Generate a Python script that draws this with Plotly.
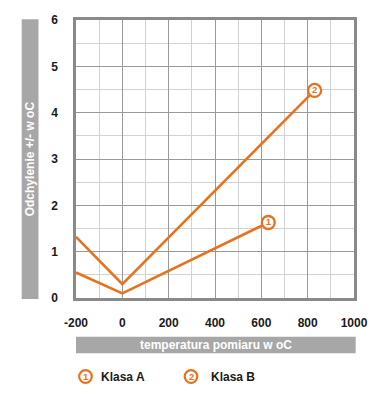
import plotly.graph_objects as go

# Data
temps_a = [-200, 0, 630]
dev_a = [0.55, 0.1, 1.63]
temps_b = [-200, 0, 830]
dev_b = [1.32, 0.3, 4.48]
series_names = ["Klasa A", "Klasa B"]
series_ids = ["1", "2"]
x_ticks = [-200, 0, 200, 400, 600, 800, 1000]
y_ticks = [0, 1, 2, 3, 4, 5, 6]
x_title = "temperatura pomiaru w oC"
y_title = "Odchylenie +/- w oC"

ORANGE = "#E8721C"
GRAY_BAR = "#A7A7A7"
FONT = "Liberation Sans, Arial, sans-serif"

W, H = 379, 393          # window
O = 8                    # default body margin of the page
FW, FH = W - 2 * O, H - 2 * O
# plot area in window pixels
PL, PR, PT, PB = 76, 354, 20, 298
PW = PR - PL
PH = PB - PT
ml, mt = PL - O, PT - O
mr, mb = FW - (PR - O), FH - (PB - O)

def px_x(p):
    return (p - PL) / PW

def px_y(p):
    return (PB - p) / PH

fig = go.Figure()
for xs, ys, nid in [(temps_a, dev_a, series_ids[0]), (temps_b, dev_b, series_ids[1])]:
    fig.add_trace(go.Scatter(x=xs, y=ys, mode="lines",
                             line=dict(color=ORANGE, width=2.6),
                             showlegend=False, hoverinfo="skip", cliponaxis=False))
    fig.add_trace(go.Scatter(x=[xs[-1]], y=[ys[-1]], mode="markers+text",
                             text=[nid], textposition="middle center",
                             textfont=dict(family=FONT, size=9.5, color=ORANGE, weight="bold"),
                             marker=dict(size=13, color="white",
                                         line=dict(color=ORANGE, width=2.3)),
                             showlegend=False, hoverinfo="skip", cliponaxis=False))

shapes = []
shapes.append(dict(type="rect", xref="paper", yref="paper",
                   x0=px_x(21.7), x1=px_x(38.5), y0=px_y(299), y1=px_y(19.3),
                   fillcolor=GRAY_BAR, line=dict(width=0), layer="below"))
shapes.append(dict(type="rect", xref="paper", yref="paper",
                   x0=px_x(76), x1=px_x(355.7), y0=px_y(353.3), y1=px_y(336.7),
                   fillcolor=GRAY_BAR, line=dict(width=0), layer="below"))
r = 6.3
for cx in (85.5, 191):
    cy = 376.5
    shapes.append(dict(type="circle", xref="paper", yref="paper",
                       x0=px_x(cx - r), x1=px_x(cx + r), y0=px_y(cy + r), y1=px_y(cy - r),
                       line=dict(color=ORANGE, width=2.2), fillcolor="white"))

annotations = [
    dict(text=y_title, xref="paper", yref="paper", x=px_x(30.3), y=px_y(159),
         textangle=-90, showarrow=False, xanchor="center", yanchor="middle",
         font=dict(family=FONT, size=12, color="white", weight="bold")),
    dict(text=x_title, xref="paper", yref="paper", x=px_x(215.5), y=px_y(345),
         showarrow=False, xanchor="center", yanchor="middle",
         font=dict(family=FONT, size=12, color="white", weight="bold")),
]
for cx, tx, nid, name in [(85.5, 99, series_ids[0], series_names[0]),
                          (191, 209.3, series_ids[1], series_names[1])]:
    annotations.append(dict(text=nid, xref="paper", yref="paper", x=px_x(cx), y=px_y(376.5),
                            showarrow=False, xanchor="center", yanchor="middle",
                            font=dict(family=FONT, size=9.5, color=ORANGE, weight="bold")))
    annotations.append(dict(text=name, xref="paper", yref="paper", x=px_x(tx), y=px_y(377),
                            showarrow=False, xanchor="left", yanchor="middle",
                            font=dict(family=FONT, size=12, color="#1a1a1a", weight="bold")))

fig.update_layout(
    width=FW, height=FH,
    margin=dict(l=ml, r=mr, t=mt, b=mb, autoexpand=False),
    paper_bgcolor="white", plot_bgcolor="white",
    shapes=shapes, annotations=annotations,
    showlegend=False,
    xaxis=dict(range=[-200, 1000], tickvals=x_ticks, ticktext=[str(v) for v in x_ticks],
               showgrid=True, gridcolor="#9a9a9a", gridwidth=1.3,
               minor=dict(dtick=100, tick0=-200, showgrid=True, gridcolor="#d2d2d2", gridwidth=1),
               showline=True, linecolor="#8a8a8a", linewidth=2.5, mirror=True,
               zeroline=False, ticks="", ticklabelstandoff=12, automargin=False,
               tickfont=dict(family=FONT, size=12, color="#1a1a1a", weight="bold"),
               fixedrange=True),
    yaxis=dict(range=[0, 6], tickvals=y_ticks, ticktext=[str(v) for v in y_ticks],
               showgrid=True, gridcolor="#9a9a9a", gridwidth=1.3,
               minor=dict(dtick=0.5, tick0=0, showgrid=True, gridcolor="#d2d2d2", gridwidth=1),
               showline=True, linecolor="#8a8a8a", linewidth=2.5, mirror=True,
               zeroline=False, ticks="", ticklabelstandoff=13, automargin=False,
               tickfont=dict(family=FONT, size=12, color="#1a1a1a", weight="bold"),
               fixedrange=True),
)

fig.write_html("out.html", config={"displayModeBar": False})
